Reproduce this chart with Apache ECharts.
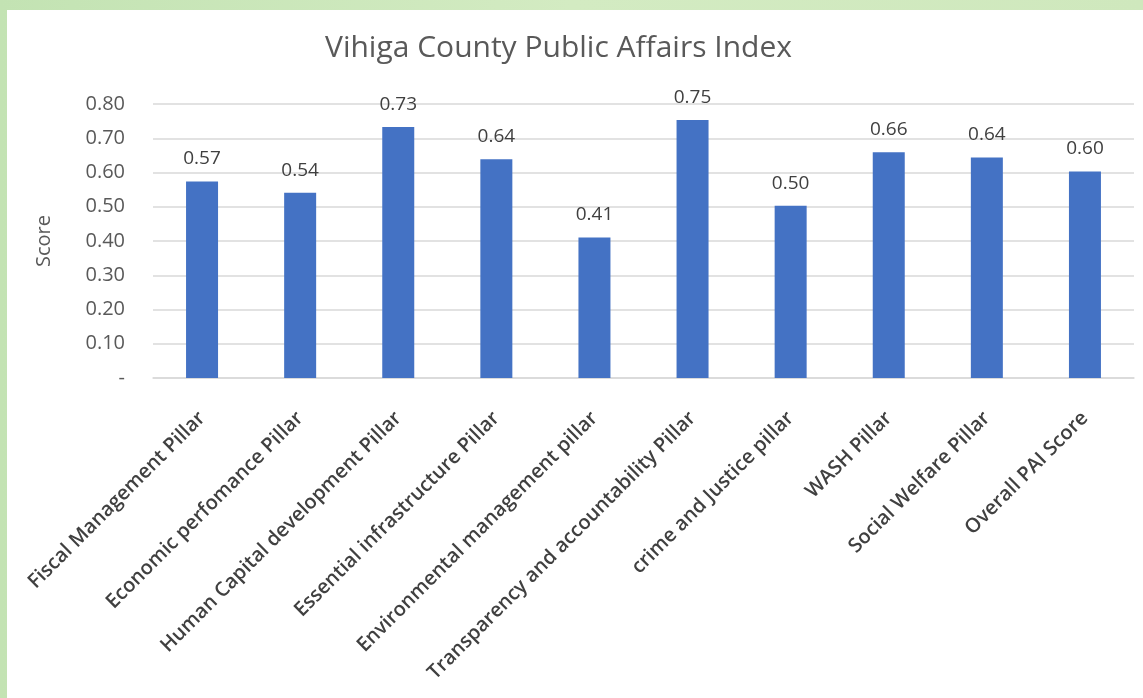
<!DOCTYPE html>
<html>
<head>
<meta charset="utf-8">
<script src="https://cdn.jsdelivr.net/npm/echarts@6/dist/echarts.min.js"></script>
<style>
  html, body { margin: 0; padding: 0; }
  body {
    width: 1143px; height: 698px; overflow: hidden; position: relative;
    background: linear-gradient(90deg, #c3e3b3 0%, #d3ebc2 50%, #cfe8bd 100%);
  }
  #chart {
    position: absolute; left: 7px; top: 10px; width: 1136px; height: 688px;
    background: #ffffff;
  }
</style>
</head>
<body>
<div id="chart"></div>
<script>
  // Data.
  var categories = [
    'Fiscal Management Pillar',
    'Economic perfomance Pillar',
    'Human Capital development Pillar',
    'Essential infrastructure Pillar',
    'Environmental management pillar',
    'Transparency and accountability Pillar',
    'crime and Justice pillar',
    'WASH Pillar',
    'Social Welfare Pillar',
    'Overall PAI Score'
  ];
  var scores = [0.574, 0.541, 0.733, 0.639, 0.410, 0.753, 0.503, 0.659, 0.644, 0.603];
  var yTicks = [0, 0.1, 0.2, 0.3, 0.4, 0.5, 0.6, 0.7, 0.8];

  var myChart = echarts.init(document.getElementById('chart'));
  var textFont = "'Open Sans', 'Noto Sans', sans-serif";

  var option = {
    animation: false,
    backgroundColor: '#ffffff',
    title: {
      text: 'Vihiga County Public Affairs Index',
      left: 313,
      top: 18,
      textStyle: { fontFamily: textFont, fontSize: 30, fontWeight: 'normal', color: '#595959' }
    },
    grid: { left: 146, right: 9, top: 94, bottom: 320 },
    xAxis: {
      type: 'category',
      data: categories,
      axisLine: { lineStyle: { color: '#d9d9d9', width: 1.5 } },
      axisTick: { show: false },
      axisLabel: {
        interval: 0,
        rotate: 45,
        margin: 37,
        fontFamily: textFont,
        fontSize: 20,
        fontWeight: 600,
        color: '#404040'
      }
    },
    yAxis: {
      type: 'value',
      min: yTicks[0],
      max: yTicks[yTicks.length - 1],
      interval: 0.1,
      name: 'Score',
      nameLocation: 'middle',
      nameGap: 99,
      nameTextStyle: { fontFamily: textFont, fontSize: 20, color: '#595959' },
      axisLine: { show: false },
      axisTick: { show: false },
      splitLine: { lineStyle: { color: '#d9d9d9', width: 1.5 } },
      axisLabel: {
        margin: 28,
        fontFamily: textFont,
        fontSize: 20,
        color: '#595959',
        formatter: function (v) {
          return v === 0 ? '-' : v.toFixed(2);
        }
      }
    },
    series: [{
      type: 'bar',
      data: scores,
      barWidth: 32,
      itemStyle: { color: '#4472c4' },
      label: {
        show: true,
        position: 'top',
        distance: 13,
        fontFamily: textFont,
        fontSize: 19,
        color: '#404040',
        formatter: function (p) { return p.value.toFixed(2); }
      }
    }]
  };

  myChart.setOption(option);
</script>
</body>
</html>
